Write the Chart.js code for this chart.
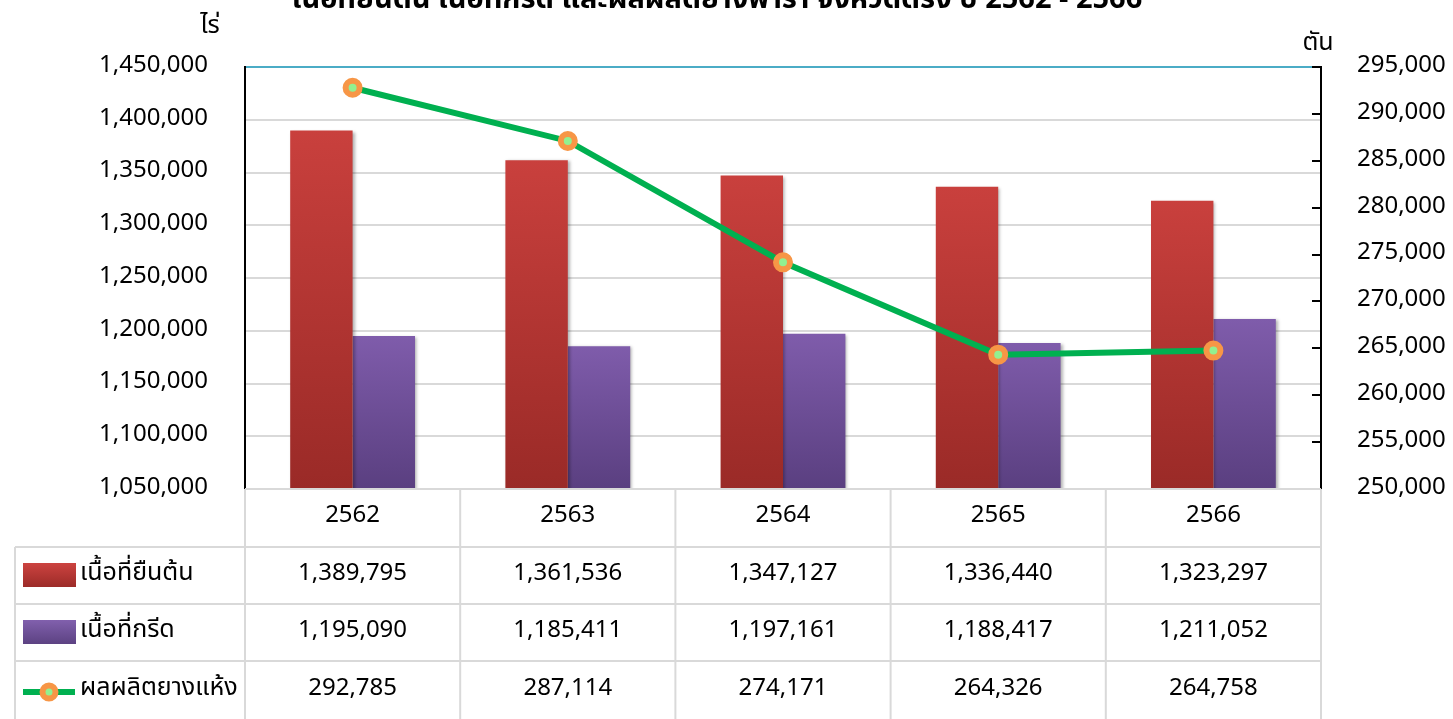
<!DOCTYPE html>
<html>
<head>
<meta charset="utf-8">
<script src="https://cdn.jsdelivr.net/npm/chart.js@4.4.0/dist/chart.umd.min.js"></script>
<style>
  html, body { margin: 0; padding: 0; background: #fff; }
  #wrap { width: 1453px; height: 719px; }
</style>
</head>
<body>
<div id="wrap"><canvas id="rubberChart"></canvas></div>
<script>
const years = ['2562', '2563', '2564', '2565', '2566'];
const standingArea = [1389795, 1361536, 1347127, 1336440, 1323297];
const tappingArea = [1195090, 1185411, 1197161, 1188417, 1211052];
const dryRubber = [292785, 287114, 274171, 264326, 264758];
const seriesNames = ['เนื้อที่ยืนต้น', 'เนื้อที่กรีด', 'ผลผลิตยางแห้ง'];
const chartTitle = 'เนื้อที่ยืนต้น เนื้อที่กรีด และผลผลิตยางพารา จังหวัดตรัง ปี 2562 - 2566';
const leftUnit = 'ไร่';
const rightUnit = 'ตัน';

const FONT = "'Noto Sans Thai', 'Noto Sans', 'Open Sans', sans-serif";
const fmt = v => v.toLocaleString('en-US');

// gradient running from the top of each bar down to the axis
function barGradient(c, top, bottom) {
    const chart = c.chart;
    const area = chart.chartArea;
    if (!area || c.type !== 'data') return top;
    const yTop = chart.scales.y.getPixelForValue(c.raw);
    const g = chart.ctx.createLinearGradient(0, yTop, 0, area.bottom);
    g.addColorStop(0, top);
    g.addColorStop(1, bottom);
    return g;
}

// soft shadow behind the bars
const barShadow = {
    id: 'barShadow',
    beforeDatasetDraw(chart, args) {
        if (args.meta.type !== 'bar') return;
        const ctx = chart.ctx;
        ctx.save();
        ctx.shadowColor = 'rgba(0,0,0,0.3)';
        ctx.shadowBlur = 3;
        ctx.shadowOffsetX = 2;
        ctx.shadowOffsetY = 1;
    },
    afterDatasetDraw(chart, args) {
        if (args.meta.type !== 'bar') return;
        chart.ctx.restore();
    }
};

// title, unit labels, inward ticks on the right axis and the data table
const extras = {
    id: 'extras',
    afterDraw(chart) {
        const { ctx, chartArea, scales } = chart;
        const x = scales.x;
        const y1 = scales.y1;
        ctx.save();

        // title (cut off at the top like the original)
        ctx.fillStyle = '#000';
        ctx.font = 'bold 29px ' + FONT;
        ctx.textAlign = 'center';
        ctx.textBaseline = 'alphabetic';
        ctx.fillText(chartTitle, 717, 8);

        // unit labels
        ctx.font = '25px ' + FONT;
        ctx.textBaseline = 'middle';
        ctx.fillText(leftUnit, 210, 28);
        ctx.fillText(rightUnit, 1318, 45);

        // inward tick marks on the right axis
        ctx.strokeStyle = '#000';
        ctx.lineWidth = 2;
        y1.ticks.forEach(t => {
            const py = Math.round(y1.getPixelForValue(t.value));
            ctx.beginPath();
            ctx.moveTo(chartArea.right, py);
            ctx.lineTo(chartArea.right - 9, py);
            ctx.stroke();
        });

        // data table
        const half = (x.getPixelForValue(1) - x.getPixelForValue(0)) / 2;
        const top = chartArea.bottom;
        const rows = [top, 547, 604, 661, 719];
        const tableLeft = 15;
        ctx.strokeStyle = '#d9d9d9';
        ctx.lineWidth = 2;
        ctx.beginPath();
        ctx.moveTo(chartArea.left, rows[0]);
        ctx.lineTo(chartArea.right, rows[0]);
        for (let r = 1; r < 4; r++) {
            ctx.moveTo(tableLeft, rows[r]);
            ctx.lineTo(chartArea.right, rows[r]);
        }
        ctx.moveTo(tableLeft, rows[1]);
        ctx.lineTo(tableLeft, 719);
        years.forEach((yr, i) => {
            const cx = x.getPixelForValue(i);
            ctx.moveTo(cx - half, rows[0]);
            ctx.lineTo(cx - half, 719);
        });
        ctx.moveTo(chartArea.right, rows[0]);
        ctx.lineTo(chartArea.right, 719);
        ctx.stroke();

        ctx.fillStyle = '#000';
        ctx.font = '24px ' + FONT;
        ctx.textAlign = 'center';
        ctx.textBaseline = 'middle';
        const series = [standingArea, tappingArea, dryRubber];
        const rowMid = [575, 632, 690];
        years.forEach((yr, i) => {
            const cx = x.getPixelForValue(i);
            ctx.fillText(yr, cx, 517);
            series.forEach((s, r) => ctx.fillText(fmt(s[i]), cx, rowMid[r]));
        });

        // row headers with legend keys
        const swatches = [['#cc4340', '#9c2b28'], ['#8160ad', '#5c4282']];
        swatches.forEach((c, r) => {
            const g = ctx.createLinearGradient(0, rowMid[r] - 12, 0, rowMid[r] + 12);
            g.addColorStop(0, c[0]);
            g.addColorStop(1, c[1]);
            ctx.fillStyle = g;
            ctx.fillRect(23, rowMid[r] - 12, 53, 24);
        });
        ctx.strokeStyle = '#00b050';
        ctx.lineWidth = 6;
        ctx.beginPath();
        ctx.moveTo(23, rowMid[2] + 2);
        ctx.lineTo(75, rowMid[2] + 2);
        ctx.stroke();
        ctx.beginPath();
        ctx.arc(49, rowMid[2] + 2, 6.5, 0, Math.PI * 2);
        ctx.fillStyle = '#92f090';
        ctx.fill();
        ctx.strokeStyle = '#f79646';
        ctx.lineWidth = 6;
        ctx.stroke();

        ctx.fillStyle = '#000';
        ctx.textAlign = 'left';
        ctx.font = '25px ' + FONT;
        seriesNames.forEach((n, r) => ctx.fillText(n, 80, rowMid[r]));
        ctx.restore();
    }
};

new Chart(document.getElementById('rubberChart'), {
    type: 'bar',
    data: {
        labels: years,
        datasets: [{
            type: 'line',
            label: seriesNames[2],
            data: dryRubber,
            yAxisID: 'y1',
            borderColor: '#00b050',
            borderWidth: 6,
            pointRadius: 7,
            pointBorderWidth: 6,
            pointBackgroundColor: '#92f090',
            pointBorderColor: '#f79646',
            tension: 0,
            order: 0
        }, {
            label: seriesNames[0],
            data: standingArea,
            yAxisID: 'y',
            backgroundColor: c => barGradient(c, '#c9403d', '#9a2a27'),
            categoryPercentage: 0.58,
            barPercentage: 1,
            order: 1
        }, {
            label: seriesNames[1],
            data: tappingArea,
            yAxisID: 'y',
            backgroundColor: c => barGradient(c, '#7f5cab', '#5a3f80'),
            categoryPercentage: 0.58,
            barPercentage: 1,
            order: 2
        }]
    },
    options: {
        responsive: true,
        maintainAspectRatio: false,
        animation: false,
        layout: { padding: { top: 67, left: 0, right: 0, bottom: 0 } },
        plugins: {
            legend: { display: false },
            title: { display: false },
            tooltip: { enabled: false }
        },
        scales: {
            x: {
                grid: { display: false },
                border: { display: false },
                ticks: { display: false },
                afterFit: s => { s.height = 230; }
            },
            y: {
                position: 'left',
                min: 1050000,
                max: 1450000,
                ticks: {
                    stepSize: 50000,
                    color: '#000',
                    padding: 37,
                    font: { family: FONT, size: 24 },
                    callback: v => fmt(v)
                },
                grid: {
                    drawTicks: false,
                    lineWidth: 2,
                    color: c => c.tick && c.tick.value === 1450000 ? '#4bacc6' : '#d9d9d9'
                },
                border: { color: '#000', width: 2 },
                afterFit: s => { s.width = 245; }
            },
            y1: {
                position: 'right',
                min: 250000,
                max: 295000,
                ticks: {
                    stepSize: 5000,
                    color: '#000',
                    padding: 36,
                    font: { family: FONT, size: 24 },
                    callback: v => fmt(v)
                },
                grid: { drawOnChartArea: false, drawTicks: false },
                border: { color: '#000', width: 2 },
                afterFit: s => { s.width = 132; }
            }
        }
    },
    plugins: [barShadow, extras]
});
</script>
</body>
</html>
